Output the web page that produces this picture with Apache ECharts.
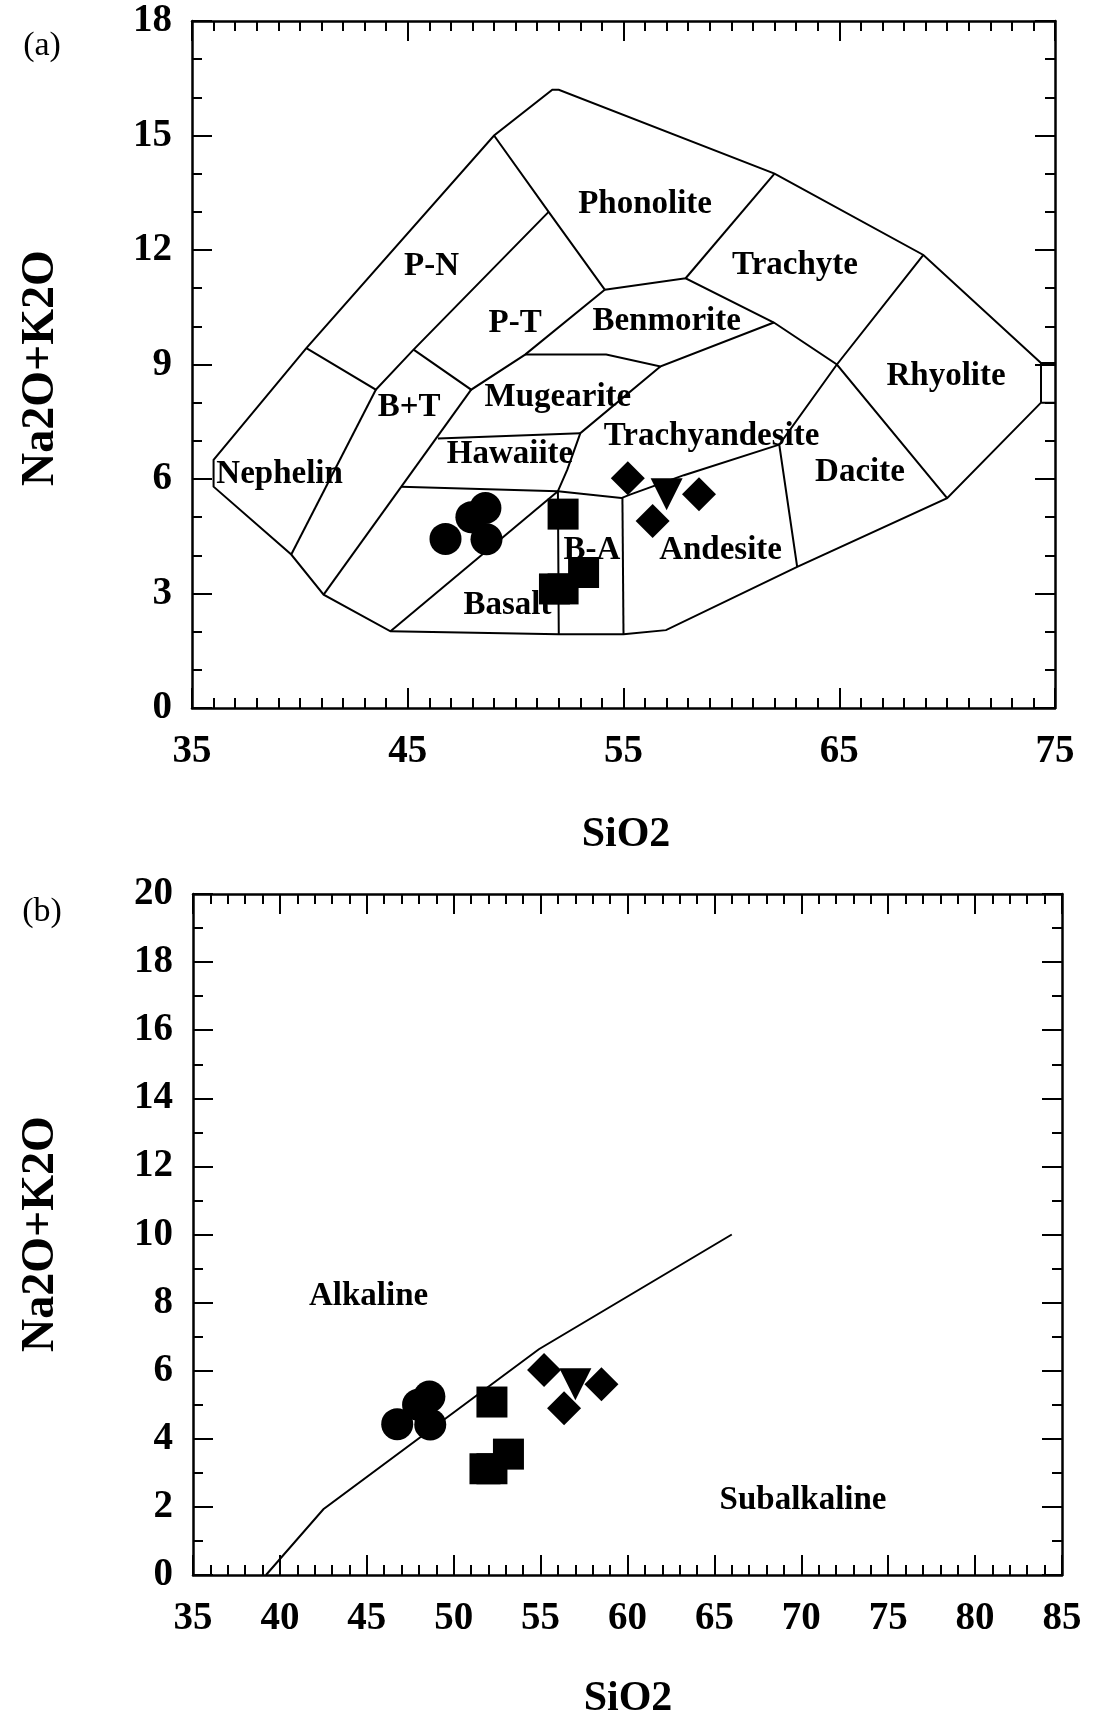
<!DOCTYPE html>
<html lang="en">
<head>
    <meta charset="UTF-8">
    <title>TAS classification diagrams</title>
    <script src="https://cdn.jsdelivr.net/npm/echarts@6/dist/echarts.min.js"></script>
    <style>
        html, body, #main {
            width: 1106px;
            height: 1723px;
            padding: 0;
            margin: 0;
            background: #fff;
        }
    </style>
</head>
<body>
<div id="main"></div>
<script>
    // tick labels
    var xTicksA = [35, 45, 55, 65, 75];
    var yTicksA = [0, 3, 6, 9, 12, 15, 18];
    var xTicksB = [35, 40, 45, 50, 55, 60, 65, 70, 75, 80, 85];
    var yTicksB = [0, 2, 4, 6, 8, 10, 12, 14, 16, 18, 20];

    // sample points (SiO2, Na2O+K2O)
    var circles = [[46.75, 4.43], [47.95, 5.0], [48.6, 5.24], [48.65, 4.42]];
    var squares = [[52.2, 5.08], [53.15, 3.55], [51.8, 3.12], [52.2, 3.12]];
    var diamonds = [[55.2, 6.02], [56.35, 4.9], [58.5, 5.6]];
    var triangles = [[57.0, 5.6]];

    // field boundaries of diagram (a)
    var outline = [[75, 9.04], [74.35, 9.04], [68.9, 11.87], [62.0, 14.0], [52.0, 16.2], [51.7, 16.2],
        [49.0, 15.0], [40.3, 9.43], [36.0, 6.5], [36.0, 5.8], [39.6, 4.02], [41.1, 2.97], [44.2, 2.01],
        [52.0, 1.93], [55.0, 1.93], [56.97, 2.04], [63.05, 3.7], [70.0, 5.5], [74.35, 8.0], [75, 8.0]];
    var rightBox = [[74.35, 9.04], [74.35, 8.0]];
    var phonoLeft = [[49.0, 15.0], [51.53, 13.0], [54.13, 10.96]];
    var phonoRight = [[62.0, 14.0], [57.88, 11.26]];
    var trachyBase = [[54.13, 10.96], [57.88, 11.26], [61.97, 10.1], [64.89, 9.0], [70.0, 5.5]];
    var daciteLeft = [[68.9, 11.87], [64.89, 9.0], [62.22, 6.9], [63.05, 3.7]];
    var pnInner = [[51.53, 13.0], [45.27, 9.39], [43.52, 8.34], [40.3, 9.43]];
    var btLeft = [[43.52, 8.34], [39.6, 4.02]];
    var ptBase = [[45.27, 9.39], [47.94, 8.34], [50.44, 9.26], [54.13, 10.96]];
    var btRight = [[47.94, 8.34], [41.1, 2.97]];
    var mugTop = [[50.44, 9.26], [54.2, 9.26], [56.71, 8.95], [61.97, 10.1]];
    var hawTop = [[46.4, 7.06], [53.0, 7.2]];
    var taLeft = [[56.71, 8.95], [53.0, 7.2], [52.4, 6.25], [51.96, 5.68], [52.0, 1.93]];
    var basTop = [[44.69, 5.8], [51.96, 5.68], [54.9, 5.5], [55.3, 5.59], [57.8, 6.1], [62.22, 6.9]];
    var baRight = [[54.95, 5.5], [55.0, 1.93]];
    var basDiag = [[44.2, 2.01], [51.96, 5.68]];

    var fieldNames = ["Phonolite", "Trachyte", "P-N", "P-T", "Benmorite", "Rhyolite", "Mugearite", "B+T",
        "Nephelin", "Hawaiite", "Trachyandesite", "Dacite", "B-A", "Andesite", "Basalt"];
    var fieldPos = [[56.0, 13.2], [62.95, 11.6], [46.1, 11.57], [49.98, 10.07], [57.0, 10.13], [69.95, 8.68],
        [51.96, 8.14], [45.06, 7.88], [39.06, 6.12], [49.74, 6.64], [59.08, 7.12], [65.96, 6.16],
        [53.54, 4.13], [59.5, 4.13], [49.62, 2.69]];

    // alkaline / subalkaline divide of diagram (b)
    var alkLine = [[39.2, 0], [42.5, 1.93], [54.9, 6.63], [66.0, 10.0]];
    var fieldNamesB = ["Alkaline", "Subalkaline"];
    var fieldPosB = [[45.1, 8.19], [70.1, 2.2]];

    var serif = '"Liberation Serif", "Times New Roman", serif';

    function valueAxis(grid, pos, ticks, minorSplit, showLabel, margin) {
        return {
            type: "value",
            gridIndex: grid,
            position: pos,
            min: ticks[0],
            max: ticks[ticks.length - 1],
            interval: ticks[1] - ticks[0],
            axisLine: {show: true, onZero: false, lineStyle: {color: "#000", width: 2.5}},
            axisTick: {show: true, inside: true, length: 20, lineStyle: {color: "#000", width: 2}},
            minorTick: {show: true, splitNumber: minorSplit, length: 10, lineStyle: {color: "#000", width: 2}},
            splitLine: {show: false},
            axisLabel: {
                show: showLabel, color: "#000", fontFamily: serif, fontWeight: "bold",
                fontSize: 39, margin: margin
            }
        };
    }

    function linesSeries(ax, paths) {
        return {
            type: "lines",
            coordinateSystem: "cartesian2d",
            xAxisIndex: ax,
            yAxisIndex: ax,
            polyline: true,
            silent: true,
            lineStyle: {color: "#000", width: 2, opacity: 1},
            data: paths.map(function (p) {
                return {coords: p};
            })
        };
    }

    function pointSeries(ax, data, symbol, size, rotate) {
        return {
            type: "scatter",
            xAxisIndex: ax,
            yAxisIndex: ax,
            symbol: symbol,
            symbolSize: size,
            symbolRotate: rotate || 0,
            itemStyle: {color: "#000", opacity: 1},
            z: 5,
            data: data
        };
    }

    function nameSeries(ax, names, pos) {
        return {
            type: "scatter",
            xAxisIndex: ax,
            yAxisIndex: ax,
            symbolSize: 1,
            itemStyle: {color: "#fff"},
            silent: true,
            z: 4,
            label: {
                show: true, position: "inside", color: "#000", fontFamily: serif,
                fontWeight: "bold", fontSize: 33, opacity: 1,
                textBorderWidth: 0, textShadowBlur: 0,
                formatter: function (p) {
                    return p.name;
                }
            },
            data: names.map(function (n, i) {
                return {name: n, value: pos[i]};
            })
        };
    }

    function textEl(text, x, y, size, weight, rot) {
        return {
            type: "text",
            x: x,
            y: y,
            rotation: rot || 0,
            style: {
                text: text,
                font: weight + " " + size + "px " + serif,
                textAlign: "center",
                textVerticalAlign: "middle",
                fill: "#000"
            }
        };
    }

    var myChart = echarts.init(document.getElementById("main"));
    myChart.setOption({
        animation: false,
        backgroundColor: "#fff",
        grid: [
            {left: 192, top: 21, width: 863, height: 687},
            {left: 193, top: 894, width: 869, height: 681}
        ],
        xAxis: [
            valueAxis(0, "bottom", xTicksA, 10, true, 24),
            valueAxis(0, "top", xTicksA, 10, false, 0),
            valueAxis(1, "bottom", xTicksB, 5, true, 24),
            valueAxis(1, "top", xTicksB, 5, false, 0)
        ],
        yAxis: [
            valueAxis(0, "left", yTicksA, 3, true, 20),
            valueAxis(0, "right", yTicksA, 3, false, 0),
            valueAxis(1, "left", yTicksB, 2, true, 20),
            valueAxis(1, "right", yTicksB, 2, false, 0)
        ],
        graphic: [
            textEl("(a)", 42, 46, 34, "normal"),
            textEl("(b)", 42, 912, 34, "normal"),
            textEl("SiO2", 626, 835, 42, "bold"),
            textEl("SiO2", 628, 1699, 42, "bold"),
            textEl("Na2O+K2O", 41, 368, 46, "bold", Math.PI / 2),
            textEl("Na2O+K2O", 41, 1234, 46, "bold", Math.PI / 2)
        ],
        series: [
            linesSeries(0, [outline, rightBox, phonoLeft, phonoRight, trachyBase, daciteLeft, pnInner,
                btLeft, ptBase, btRight, mugTop, hawTop, taLeft, basTop, baRight, basDiag]),
            nameSeries(0, fieldNames, fieldPos),
            pointSeries(0, circles, "circle", 32),
            pointSeries(0, squares, "rect", 31),
            pointSeries(0, diamonds, "diamond", 34),
            pointSeries(0, triangles, "triangle", 32, 180),
            linesSeries(2, [alkLine]),
            nameSeries(2, fieldNamesB, fieldPosB),
            pointSeries(2, circles, "circle", 32),
            pointSeries(2, squares, "rect", 31),
            pointSeries(2, diamonds, "diamond", 34),
            pointSeries(2, triangles, "triangle", 32, 180)
        ]
    });
</script>
</body>
</html>
